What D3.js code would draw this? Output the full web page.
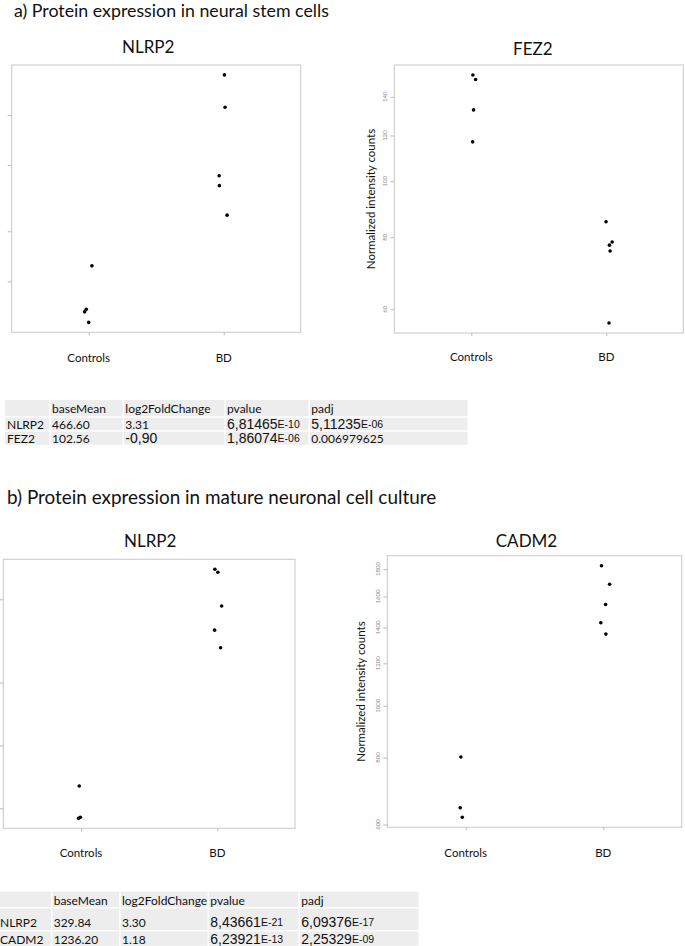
<!DOCTYPE html>
<html>
<head>
<meta charset="utf-8">
<script src="https://cdn.jsdelivr.net/npm/d3@7"></script>
<style>
  body { margin: 0; background: #fff; }
  svg { display: block; }
  text { font-family: Lato, "Open Sans", sans-serif; fill: #111; }
</style>
</head>
<body>
<svg id="chart" width="685" height="946"></svg>
<script>
var groups = ["Controls", "BD"];

// a) neural stem cells
var nlrp2NscControls = [124, 68, 65.6, 56.7];
var nlrp2NscBD = [1740, 1112, 431, 376, 250];
var nlrp2NscJitterC = [0.024, -0.018, -0.030, 0];
var nlrp2NscJitterB = [0.005, 0.010, -0.034, -0.032, 0.025];
var nlrp2NscTicks = [100, 200, 500, 1000];

var fez2Controls = [152.8, 150, 132.9, 117];
var fez2BD = [85.1, 78.5, 77.5, 75.7, 56.8];
var fez2JitterC = [0.012, 0.032, 0.017, 0.010];
var fez2JitterB = [-0.002, 0.043, 0.023, 0.028, 0.020];
var fez2Ticks = [60, 80, 100, 120, 140];

// b) mature neuronal culture
var nlrp2MatControls = [64, 44.8, 45.3];
var nlrp2MatBD = [696, 674, 464.5, 356, 293];
var nlrp2MatJitterC = [-0.013, -0.018, -0.005];
var nlrp2MatJitterB = [-0.018, 0.004, 0.032, -0.020, 0.024];
var nlrp2MatTicks = [50, 100, 200, 500];

var cadm2Controls = [802, 645, 619];
var cadm2BD = [1826, 1686, 1546, 1429, 1361];
var cadm2JitterC = [-0.035, -0.040, -0.025];
var cadm2JitterB = [-0.013, 0.046, 0.017, -0.018, 0.019];
var cadm2Ticks = [600, 800, 1000, 1200, 1400, 1600, 1800];

var tableHeader = ["", "baseMean", "log2FoldChange", "pvalue", "padj"];
var tableARows = [
    ["NLRP2", "466.60", "3.31", "6,81465E-10", "5,11235E-06"],
    ["FEZ2", "102.56", "-0,90", "1,86074E-06", "0.006979625"]
];
var tableBRows = [
    ["NLRP2", "329.84", "3.30", "8,43661E-21", "6,09376E-17"],
    ["CADM2", "1236.20", "1.18", "6,23921E-13", "2,25329E-09"]
];

var svg = d3.select("#chart");
svg.append("rect").attr("width", 685).attr("height", 946).attr("fill", "#fff");

function heading(txt, x, y, size) {
    svg.append("text").attr("x", x).attr("y", y)
        .attr("dominant-baseline", "central")
        .attr("font-size", size)
        .text(txt);
}

// R-style log stripchart, ylim padded 4% like R does
function drawPanel(p) {
    var all = p.controls.concat(p.bd);
    var lo = Math.log10(d3.min(all)), hi = Math.log10(d3.max(all));
    var pad = (hi - lo) * 0.04;

    var x = d3.scaleLinear().domain([0.43, 2.57]).range([p.box[0], p.box[2]]);
    var y = d3.scaleLog().domain([Math.pow(10, lo - pad), Math.pow(10, hi + pad)])
        .range([p.box[3], p.box[1]]);

    var g = svg.append("g");

    g.append("rect")
        .attr("x", p.box[0]).attr("y", p.box[1])
        .attr("width", p.box[2] - p.box[0]).attr("height", p.box[3] - p.box[1])
        .attr("fill", "none").attr("stroke", "#c8c8c8").attr("stroke-width", 1);

    var yAxis = g.append("g")
        .attr("transform", "translate(" + p.box[0] + ",0)")
        .call(d3.axisLeft(y).tickValues(p.ticks).tickSize(4).tickFormat(""));
    yAxis.select(".domain").remove();
    yAxis.selectAll("line").attr("stroke", "#bbb");

    if (p.tickLabels) {
        g.selectAll(".ylab").data(p.ticks).enter().append("text")
            .attr("class", "ylab")
            .attr("transform", function(d) { return "translate(" + (p.box[0] - 10) + "," + y(d) + ") rotate(-90)"; })
            .attr("text-anchor", "middle")
            .attr("dominant-baseline", "central")
            .attr("font-size", 6)
            .style("fill", "#888")
            .text(function(d) { return d; });
    }

    var xAxis = g.append("g")
        .attr("transform", "translate(0," + p.box[3] + ")")
        .call(d3.axisBottom(x).tickValues([1, 2]).tickSize(3).tickFormat(""));
    xAxis.select(".domain").remove();
    xAxis.selectAll("line").attr("stroke", "#bbb");

    g.selectAll(".cat").data(groups).enter().append("text")
        .attr("class", "cat")
        .attr("x", function(d, i) { return x(i + 1); })
        .attr("y", p.labelY)
        .attr("text-anchor", "middle")
        .attr("dominant-baseline", "central")
        .attr("font-size", 11.5)
        .text(function(d) { return d; });

    g.append("text")
        .attr("x", x(1.5) + (p.titleDx || 0)).attr("y", p.titleY)
        .attr("text-anchor", "middle")
        .attr("dominant-baseline", "central")
        .attr("font-size", 17)
        .text(p.title);

    if (p.ylabel) {
        g.append("text")
            .attr("transform", "translate(" + p.ylabelX + "," + (p.box[1] + p.box[3]) / 2 + ") rotate(-90)")
            .attr("text-anchor", "middle")
            .attr("dominant-baseline", "central")
            .attr("font-size", 11.5)
            .text(p.ylabel);
    }

    var pts = p.controls.map(function(v, i) { return {g: 1 + p.jitterC[i], v: v}; })
        .concat(p.bd.map(function(v, i) { return {g: 2 + p.jitterB[i], v: v}; }));

    g.selectAll("circle").data(pts).enter().append("circle")
        .attr("cx", function(d) { return x(d.g); })
        .attr("cy", function(d) { return y(d.v); })
        .attr("r", 1.8)
        .attr("fill", "#000");
}

function drawTable(rows, cols, rowEdges, textY) {
    var all = [tableHeader].concat(rows);
    var g = svg.append("g");
    all.forEach(function(row, r) {
        row.forEach(function(cell, c) {
            g.append("rect")
                .attr("x", cols[c] + (c ? 0.75 : 0)).attr("y", rowEdges[r] + (r ? 0.75 : 0))
                .attr("width", cols[c + 1] - cols[c] - (c ? 0.75 : 0) - 0.75)
                .attr("height", rowEdges[r + 1] - rowEdges[r] - (r ? 0.75 : 0) - 0.75)
                .attr("fill", "#ededed");
            if (!cell) return;
            var t = g.append("text")
                .attr("x", cols[c] + 2).attr("y", textY[r])
                .attr("dominant-baseline", "central")
                .attr("font-size", 12);
            var m = cell.match(/^(.*)(E-\d+)$/);
            if (m) {
                t.append("tspan").style("font-family", "'Liberation Sans', Arial").attr("font-size", 14).text(m[1]);
                t.append("tspan").style("font-family", "'Liberation Sans', Arial").attr("font-size", 10.5).text(m[2]);
            } else if (cell.indexOf(",") >= 0) {
                t.style("font-family", "'Liberation Sans', Arial").attr("font-size", 14).text(cell);
            } else {
                t.text(cell);
            }
        });
    });
}

heading("a) Protein expression in neural stem cells", 14, 10, 17.8);

drawPanel({
    title: "NLRP2", titleY: 46, titleDx: -8,
    controls: nlrp2NscControls, bd: nlrp2NscBD,
    jitterC: nlrp2NscJitterC, jitterB: nlrp2NscJitterB,
    ticks: nlrp2NscTicks, tickLabels: false,
    box: [11.7, 65, 300.7, 332.3], labelY: 357
});

drawPanel({
    title: "FEZ2", titleY: 48, titleDx: -6,
    controls: fez2Controls, bd: fez2BD,
    jitterC: fez2JitterC, jitterB: fez2JitterB,
    ticks: fez2Ticks, tickLabels: true,
    ylabel: "Normalized intensity counts", ylabelX: 370,
    box: [394.3, 65, 683.3, 333], labelY: 356
});

drawTable(tableARows, [5, 50, 123.3, 225, 309.3, 468.3], [400, 417, 431, 445.5], [408.5, 424, 438.3]);

heading("b) Protein expression in mature neuronal cell culture", 7, 496, 18.9);

drawPanel({
    title: "NLRP2", titleY: 540, titleDx: 1,
    controls: nlrp2MatControls, bd: nlrp2MatBD,
    jitterC: nlrp2MatJitterC, jitterB: nlrp2MatJitterB,
    ticks: nlrp2MatTicks, tickLabels: false,
    box: [3.3, 559.3, 295, 828.3], labelY: 852
});

drawPanel({
    title: "CADM2", titleY: 540, titleDx: -8,
    controls: cadm2Controls, bd: cadm2BD,
    jitterC: cadm2JitterC, jitterB: cadm2JitterB,
    ticks: cadm2Ticks, tickLabels: true,
    ylabel: "Normalized intensity counts", ylabelX: 360,
    box: [387.3, 555.7, 681.7, 827.3], labelY: 852
});

drawTable(tableBRows, [-2, 51.7, 120, 208.3, 299.3, 419.3], [891.7, 907.7, 930.7, 946.5], [900.7, 922.3, 939]);
</script>
</body>
</html>
